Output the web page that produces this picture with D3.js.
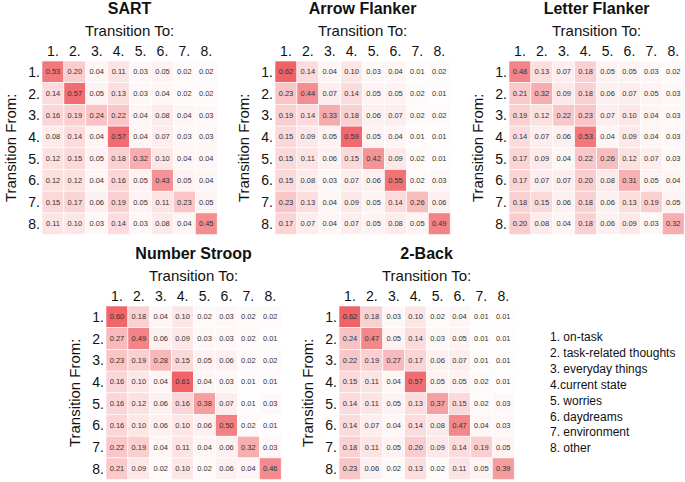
<!DOCTYPE html>
<html lang="en">
<head>
    <meta charset="UTF-8">
    <title>Transition matrices</title>
    <style>
        body{ margin: 0; background: #fff; }
        svg{ font-family: "Liberation Sans", Arial, sans-serif; }
    </style>
</head>
<body>
    <div class="container"></div>
    <script src="https://cdn.jsdelivr.net/npm/d3@7"></script>
    <script>
        const states = ["1.", "2.", "3.", "4.", "5.", "6.", "7.", "8."]
        const legendLabels = ["1. on-task", "2. task-related thoughts", "3. everyday things",
            "4.current state", "5. worries", "6. daydreams", "7. environment", "8. other"]

        const sart = [
            [0.53,0.20,0.04,0.11,0.03,0.05,0.02,0.02],
            [0.14,0.57,0.05,0.13,0.03,0.04,0.02,0.02],
            [0.16,0.19,0.24,0.22,0.04,0.08,0.04,0.03],
            [0.08,0.14,0.04,0.57,0.04,0.07,0.03,0.03],
            [0.12,0.15,0.05,0.18,0.32,0.10,0.04,0.04],
            [0.12,0.12,0.04,0.16,0.05,0.43,0.05,0.04],
            [0.15,0.17,0.06,0.19,0.05,0.11,0.23,0.05],
            [0.11,0.10,0.03,0.14,0.03,0.08,0.04,0.45]]

        const arrowFlanker = [
            [0.62,0.14,0.04,0.10,0.03,0.04,0.01,0.02],
            [0.23,0.44,0.07,0.14,0.05,0.05,0.02,0.01],
            [0.19,0.14,0.33,0.18,0.06,0.07,0.02,0.02],
            [0.15,0.09,0.05,0.59,0.05,0.04,0.01,0.01],
            [0.15,0.11,0.06,0.15,0.42,0.09,0.02,0.01],
            [0.15,0.08,0.03,0.07,0.06,0.55,0.02,0.03],
            [0.23,0.13,0.04,0.09,0.05,0.14,0.26,0.06],
            [0.17,0.07,0.04,0.07,0.05,0.08,0.05,0.49]]

        const letterFlanker = [
            [0.48,0.13,0.07,0.18,0.05,0.05,0.03,0.02],
            [0.21,0.32,0.09,0.18,0.06,0.07,0.05,0.03],
            [0.19,0.12,0.22,0.23,0.07,0.10,0.04,0.03],
            [0.14,0.07,0.06,0.53,0.04,0.09,0.04,0.03],
            [0.17,0.09,0.04,0.22,0.26,0.12,0.07,0.03],
            [0.17,0.07,0.07,0.20,0.08,0.31,0.05,0.04],
            [0.18,0.15,0.06,0.18,0.06,0.13,0.19,0.05],
            [0.20,0.08,0.04,0.18,0.06,0.09,0.03,0.32]]

        const numberStroop = [
            [0.60,0.18,0.04,0.10,0.02,0.03,0.02,0.02],
            [0.27,0.49,0.06,0.09,0.03,0.03,0.02,0.01],
            [0.23,0.19,0.28,0.15,0.05,0.06,0.02,0.02],
            [0.16,0.10,0.04,0.61,0.04,0.03,0.01,0.01],
            [0.16,0.12,0.06,0.16,0.38,0.07,0.01,0.03],
            [0.16,0.10,0.06,0.10,0.06,0.50,0.02,0.01],
            [0.22,0.19,0.04,0.11,0.04,0.06,0.32,0.03],
            [0.21,0.09,0.02,0.10,0.02,0.06,0.04,0.46]]

        const twoBack = [
            [0.62,0.18,0.03,0.10,0.02,0.04,0.01,0.01],
            [0.24,0.47,0.05,0.14,0.03,0.05,0.01,0.01],
            [0.22,0.19,0.27,0.17,0.06,0.07,0.01,0.01],
            [0.15,0.11,0.04,0.57,0.05,0.05,0.02,0.01],
            [0.14,0.11,0.05,0.13,0.37,0.15,0.02,0.03],
            [0.14,0.07,0.04,0.14,0.08,0.47,0.04,0.03],
            [0.18,0.11,0.05,0.20,0.09,0.14,0.19,0.05],
            [0.23,0.06,0.02,0.13,0.02,0.11,0.05,0.39]]

        const W = 685, H = 482
        const svg = d3.select(".container").append("svg")
            .attr("width", W).attr("height", H)

        // white -> salmon red
        const color = d3.scaleLinear().domain([0, 0.65]).range(["#ffffff", "#ee5a5f"]).clamp(true)

        // panels: title, data, left/top of the cell grid
        const panels = [
            { title: "SART", data: sart, x: 42, y: 61 },
            { title: "Arrow Flanker", data: arrowFlanker, x: 275, y: 61 },
            { title: "Letter Flanker", data: letterFlanker, x: 509, y: 61 },
            { title: "Number Stroop", data: numberStroop, x: 106, y: 306 },
            { title: "2-Back", data: twoBack, x: 339, y: 306 }
        ]

        const cellW = 21.9, cellH = 21.7

        panels.forEach(p => {
            const x = d3.scaleBand().domain(d3.range(8)).range([p.x, p.x + cellW * 8])
            const y = d3.scaleBand().domain(d3.range(8)).range([p.y, p.y + cellH * 8])
            const g = svg.append("g")
            const cx = p.x + cellW * 4, cy = p.y + cellH * 4

            const cells = p.data.flatMap((row, i) => row.map((v, j) => ({ i, j, v })))

            g.selectAll("rect").data(cells).join("rect")
                .attr("x", d => x(d.j))
                .attr("y", d => y(d.i))
                .attr("width", x.bandwidth())
                .attr("height", y.bandwidth())
                .attr("fill", d => color(d.v))
                .attr("stroke", "#fff")
                .attr("stroke-width", 0.6)

            g.selectAll("text.val").data(cells).join("text")
                .attr("class", "val")
                .attr("x", d => x(d.j) + x.bandwidth() / 2)
                .attr("y", d => y(d.i) + y.bandwidth() / 2)
                .attr("text-anchor", "middle")
                .attr("dominant-baseline", "central")
                .attr("font-size", 7.5)
                .attr("fill", "#333")
                .text(d => d.v.toFixed(2))

            // column labels
            g.selectAll("text.col").data(states).join("text")
                .attr("class", "col")
                .attr("x", (s, j) => x(j) + x.bandwidth() / 2)
                .attr("y", p.y - 5)
                .attr("text-anchor", "middle")
                .attr("font-size", 14)
                .attr("fill", "#111")
                .text(s => s)

            // row labels
            g.selectAll("text.row").data(states).join("text")
                .attr("class", "row")
                .attr("x", p.x - 2)
                .attr("y", (s, i) => y(i) + y.bandwidth() / 2)
                .attr("text-anchor", "end")
                .attr("dominant-baseline", "central")
                .attr("font-size", 14)
                .attr("fill", "#111")
                .text(s => s)

            g.append("text")
                .attr("x", cx).attr("y", p.y - 25)
                .attr("text-anchor", "middle")
                .attr("font-size", 15)
                .attr("fill", "#111")
                .text("Transition To:")

            g.append("text")
                .attr("x", cx).attr("y", p.y - 47)
                .attr("text-anchor", "middle")
                .attr("font-size", 16)
                .attr("font-weight", "bold")
                .attr("fill", "#111")
                .text(p.title)

            g.append("text")
                .attr("transform", `translate(${p.x - 32},${cy}) rotate(-90)`)
                .attr("text-anchor", "middle")
                .attr("dominant-baseline", "central")
                .attr("font-size", 15)
                .attr("fill", "#111")
                .text("Transition From:")
        })

        svg.append("g").selectAll("text").data(legendLabels).join("text")
            .attr("x", 550)
            .attr("y", (s, i) => 337 + i * 15.9)
            .attr("dominant-baseline", "central")
            .attr("font-size", 12)
            .attr("fill", "#111")
            .text(s => s)
    </script>
</body>
</html>
